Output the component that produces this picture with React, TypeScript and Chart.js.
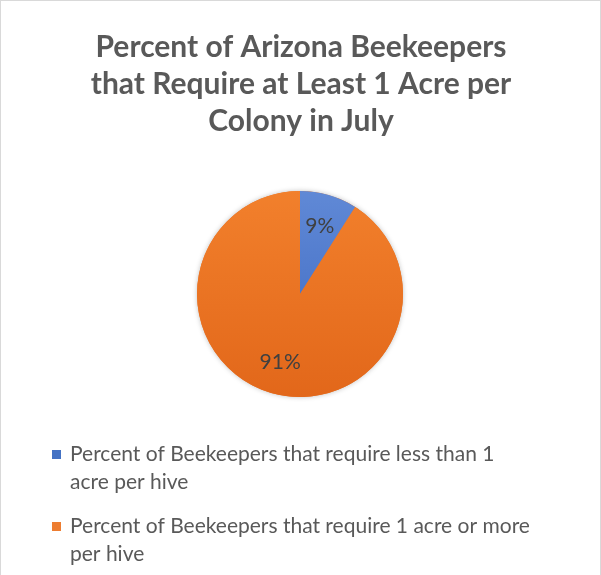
import React, { useEffect, useRef } from "react";
import { Chart, registerables } from "chart.js";

Chart.register(...registerables);

const titleLines = ["Percent of Arizona Beekeepers", "that Require at Least 1 Acre per", "Colony in July"];
const categories = [
  "Percent of Beekeepers that require less than 1 acre per hive",
  "Percent of Beekeepers that require 1 acre or more per hive",
];
const values = [9, 91];
const valueLabels = ["9%", "91%"];
const colors = ["#4472C4", "#ED7D31"];
const gradTop = ["#6089D6", "#F2802C"];
const gradBottom = ["#3A66C0", "#E2671A"];

const FONT = "Lato, 'Open Sans', 'Liberation Sans', sans-serif";

function wrap(ctx: CanvasRenderingContext2D, text: string, maxW: number): string[] {
  const words = text.split(" ");
  const lines: string[] = [];
  let cur = "";
  for (const w of words) {
    const t = cur ? cur + " " + w : w;
    if (cur && ctx.measureText(t).width > maxW) {
      lines.push(cur);
      cur = w;
    } else cur = t;
  }
  if (cur) lines.push(cur);
  return lines;
}

const decorPlugin = {
  id: "decor",
  beforeDatasetsDraw(chart: any) {
    const ctx: CanvasRenderingContext2D = chart.ctx;
    const meta = chart.getDatasetMeta(0);
    const a = meta.data[0];
    if (!a) return;
    ctx.save();
    ctx.shadowColor = "rgba(0,0,0,0.25)";
    ctx.shadowBlur = 5;
    ctx.beginPath();
    ctx.arc(a.x, a.y, a.outerRadius, 0, Math.PI * 2);
    ctx.fillStyle = "#E8701F";
    ctx.fill();
    ctx.restore();
  },
  afterDraw(chart: any) {
    const ctx: CanvasRenderingContext2D = chart.ctx;
    ctx.save();
    // title
    ctx.fillStyle = "#595959";
    ctx.font = `bold 30px ${FONT}`;
    ctx.textAlign = "center";
    ctx.textBaseline = "middle";
    titleLines.forEach((l, i) => ctx.fillText(l, 300, 46 + i * 37));

    // slice labels
    const meta = chart.getDatasetMeta(0);
    ctx.font = `21px ${FONT}`;
    ctx.fillStyle = "#404040";
    meta.data.forEach((arc: any, i: number) => {
      const mid = (arc.startAngle + arc.endAngle) / 2;
      const r = arc.outerRadius * 0.69;
      ctx.fillText(valueLabels[i], arc.x + Math.cos(mid) * r, arc.y + Math.sin(mid) * r);
    });

    // legend
    ctx.font = `21px ${FONT}`;
    ctx.textAlign = "left";
    let y = 453;
    categories.forEach((c, i) => {
      ctx.fillStyle = colors[i];
      ctx.fillRect(51, y - 4, 9, 9);
      ctx.fillStyle = "#595959";
      const lines = wrap(ctx, c, 463);
      lines.forEach((l, j) => ctx.fillText(l, 69, y + j * 28));
      y += 72;
    });
    ctx.restore();
  },
};

export default function App() {
  const ref = useRef<HTMLCanvasElement>(null);
  useEffect(() => {
    document.body.style.margin = "0";
    const canvas = ref.current!;
    const c2 = canvas.getContext("2d")!;
    const fills = colors.map((_, i) => {
      const g = c2.createLinearGradient(0, 189, 0, 397);
      g.addColorStop(0, gradTop[i]);
      g.addColorStop(1, gradBottom[i]);
      return g;
    });
    const chart = new Chart(canvas, {
      type: "pie",
      data: {
        labels: categories,
        datasets: [{ data: values, backgroundColor: fills, borderWidth: 0 }],
      },
      options: {
        animation: false,
        responsive: false,
        layout: { padding: { top: 189, bottom: 177, left: 196, right: 197 } },
        plugins: { legend: { display: false }, title: { display: false }, tooltip: { enabled: false } },
      },
      plugins: [decorPlugin],
    });
    return () => chart.destroy();
  }, []);
  return (
    <div style={{ width: 601, height: 575, boxSizing: "border-box", borderTop: "1px solid #d9d9d9", borderLeft: "1px solid #d9d9d9", borderRight: "1px solid #d9d9d9", position: "relative" }}>
      <canvas ref={ref} width={599} height={574} style={{ display: "block" }} />
    </div>
  );
}
